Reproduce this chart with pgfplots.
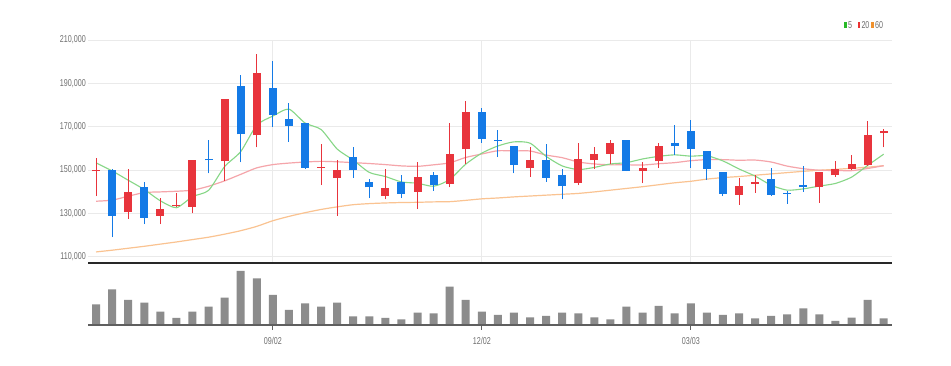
\documentclass[border=0pt]{standalone}
\usepackage{pgfplots}
\pgfplotsset{compat=1.18}
\usepackage{pgfplotstable}
\usepackage{fontspec}
\setmainfont{Liberation Sans}[FakeStretch=0.72]

\definecolor{candlered}{RGB}{232,52,60}
\definecolor{candleblue}{RGB}{20,122,230}
\definecolor{mafive}{RGB}{135,215,135}
\definecolor{matwenty}{RGB}{245,165,170}
\definecolor{masixty}{RGB}{250,195,145}
\definecolor{lgreen}{RGB}{40,185,40}
\definecolor{lred}{RGB}{235,50,50}
\definecolor{lorange}{RGB}{240,145,45}
\definecolor{gridgray}{RGB}{234,234,234}
\definecolor{labelgray}{RGB}{110,110,110}
\definecolor{axisdark}{RGB}{40,40,40}
\definecolor{basegray}{RGB}{95,95,95}
\definecolor{volgray}{RGB}{140,140,140}

\pgfplotstableread{
x o h l c
0 149500 155500 138000 150000
2 130500 150500 127500 140000
4 129000 137000 125000 132000
5 133500 139500 133000 134000
6 133000 154500 130000 154500
8 154000 183000 145000 183000
10 166000 203500 160500 195000
14 151000 162000 143000 151500
15 146500 154500 129000 150000
18 138000 150500 136500 141500
20 140000 153500 132000 147000
22 143500 171500 142000 157500
23 159500 182000 153000 177000
27 151000 160500 147000 154500
30 144000 162500 143000 155000
31 154500 160500 150500 157500
32 157500 164000 153000 162500
34 149500 153500 144000 151000
35 154000 162500 151000 161000
40 138500 146500 134000 142500
41 143500 147500 139500 144500
45 142000 149000 135000 149000
46 147500 154000 147000 150500
47 150500 157000 150000 153000
48 152500 172500 152000 166000
49 167000 169000 160500 168000
}\redc

\pgfplotstableread{
x o h l c
1 150000 150500 119000 129000
3 142000 144500 125000 128000
7 155000 164000 148500 154500
9 189000 194000 153500 166500
11 188000 200500 170000 175500
12 173500 181000 163000 170500
13 171500 171500 150500 151000
16 156000 160500 146500 150000
17 144500 146000 137000 142000
19 144500 147500 137000 139000
21 147500 149000 140500 143000
24 177000 178500 162500 164500
25 164000 168500 156000 163500
26 161000 161000 148500 152500
28 154500 162000 144500 146500
29 147500 150500 136500 142500
33 164000 164000 149500 149500
36 162500 171000 157000 161000
37 168000 173000 151000 159500
38 159000 159000 145500 150500
39 149000 149000 138000 139000
42 146000 151000 138000 138500
43 139500 140500 134500 139000
44 143000 152000 140000 142000
}\bluec

\pgfplotstableread{
x m5 m20 m60
0 153300 135600 112200
1 149600 136100 113000
2 145300 137900 113900
3 141000 139600 114800
4 135800 139900 115800
5 132600 140200 116800
6 137700 140700 117900
7 140600 142500 119000
8 151600 145000 120400
9 158500 148000 122000
10 170700 151000 124000
11 174900 152500 126600
12 178100 153200 128600
13 171700 153700 130300
14 168700 154000 131800
15 159700 153800 133000
16 154600 153400 134000
17 148900 153000 134500
18 147000 152500 134800
19 144500 151900 135000
20 143900 151700 135100
21 142500 152400 135300
22 145600 153300 135400
23 152700 155800 136000
24 157800 157400 136700
25 161100 158900 137100
26 163000 158800 137600
27 162400 158800 138000
28 156300 156900 138400
29 151900 155700 138800
30 150200 153700 139200
31 151200 152800 139900
32 152800 152400 140700
33 153400 152400 141500
34 155100 152300 142300
35 156300 152900 143200
36 157000 153400 144100
37 156400 154300 144800
38 156600 154800 145800
39 154200 154800 146500
40 150500 154500 147000
41 147200 154600 147600
42 143000 153700 148200
43 140700 151800 148800
44 141300 150600 149400
45 142600 149900 149900
46 143800 149800 150300
47 146700 149700 150800
48 152100 150700 151300
49 157300 152000 152000
}\matab

\pgfplotstableread{
x v
0 207000
1 357000
2 250000
3 223000
4 133000
5 70000
6 133000
7 183000
8 273000
9 540000
10 467000
11 300000
12 150000
13 217000
14 183000
15 223000
16 87000
17 87000
18 70000
19 57000
20 123000
21 117000
22 383000
23 250000
24 133000
25 100000
26 123000
27 77000
28 90000
29 123000
30 117000
31 77000
32 57000
33 183000
34 123000
35 190000
36 117000
37 217000
38 123000
39 100000
40 117000
41 67000
42 90000
43 107000
44 167000
45 107000
46 40000
47 73000
48 250000
49 67000
}\voltab

\begin{document}
\begin{tikzpicture}
\fill[white] (0,0) rectangle (951bp,366bp);
\path[use as bounding box] (0,0) rectangle (951bp,366bp);

\begin{axis}[
  at={(88bp,102.8bp)}, anchor=south west, scale only axis,
  width=803.7bp, height=223.2bp,
  xmin=-0.5, xmax=49.5, ymin=107000, ymax=210000,
  axis x line*=bottom, axis y line*=left,
  y axis line style={draw=none},
  x axis line style={draw=axisdark, line width=2bp},
  xtick={11,24,37}, xticklabels={},
  ytick={110000,130000,150000,170000,190000,210000},
  yticklabels={{110,000},{130,000},{150,000},{170,000},{190,000},{210,000}},
  xmajorgrids, ymajorgrids,
  grid style={draw=gridgray, line width=0.8bp},
  major tick length=0pt,
  scaled y ticks=false,
  yticklabel style={font=\fontsize{10}{12}\selectfont, text=labelgray, anchor=east, inner sep=0pt, xshift=-2bp},
]
\addplot[masixty, line width=1.2bp, smooth, tension=0.4] table[x=x,y=m60]{\matab};
\addplot[matwenty, line width=1.2bp, smooth, tension=0.4] table[x=x,y=m20]{\matab};
\addplot[mafive, line width=1.1bp, smooth, tension=0.4] table[x=x,y=m5]{\matab};

% wicks
\addplot[draw=none, mark=none,
  error bars/.cd, y dir=plus, y explicit, error mark=none,
  error bar style={draw=candlered, line width=1bp}]
  table[x=x, y=l, y error expr=\thisrow{h}-\thisrow{l}]{\redc};
\addplot[draw=none, mark=none,
  error bars/.cd, y dir=plus, y explicit, error mark=none,
  error bar style={draw=candleblue, line width=1bp}]
  table[x=x, y=l, y error expr=\thisrow{h}-\thisrow{l}]{\bluec};
% bodies
\addplot[draw=none, mark=none,
  error bars/.cd, y dir=plus, y explicit, error mark=none,
  error bar style={draw=candlered, line width=8bp}]
  table[x=x, y=o, y error expr=\thisrow{c}-\thisrow{o}]{\redc};
\addplot[draw=none, mark=none,
  error bars/.cd, y dir=plus, y explicit, error mark=none,
  error bar style={draw=candleblue, line width=8bp}]
  table[x=x, y=c, y error expr=\thisrow{o}-\thisrow{c}]{\bluec};
\end{axis}

\begin{axis}[
  at={(88bp,41bp)}, anchor=south west, scale only axis,
  width=803.7bp, height=60bp,
  xmin=-0.5, xmax=49.5, ymin=0, ymax=600000,
  axis on top,
  axis x line*=bottom, axis y line=none, ytick=\empty,
  xtick={11,24,37}, xticklabels={09/02,12/02,03/03},
  x axis line style={draw=basegray, line width=1.5bp},
  tick align=outside, major tick length=5bp,
  xtick style={draw=basegray, line width=1bp},
  xticklabel style={font=\fontsize{10}{12}\selectfont, text=labelgray, inner sep=0pt, anchor=north, yshift=-7bp},
]
\addplot[ybar, bar width=8bp, bar shift=0pt, fill=volgray, draw=none] table[x=x,y=v]{\voltab};
\end{axis}

% legend
\fill[lgreen] (844bp,337.6bp) rectangle (846.7bp,344.4bp);
\node[anchor=west, inner sep=0pt, text=labelgray, font=\fontsize{10}{12}\selectfont] at (847.8bp,341bp) {5};
\fill[lred] (857.7bp,337.6bp) rectangle (860.4bp,344.4bp);
\node[anchor=west, inner sep=0pt, text=labelgray, font=\fontsize{10}{12}\selectfont] at (861.3bp,341bp) {20};
\fill[lorange] (871bp,337.6bp) rectangle (873.7bp,344.4bp);
\node[anchor=west, inner sep=0pt, text=labelgray, font=\fontsize{10}{12}\selectfont] at (875bp,341bp) {60};
\end{tikzpicture}
\end{document}
